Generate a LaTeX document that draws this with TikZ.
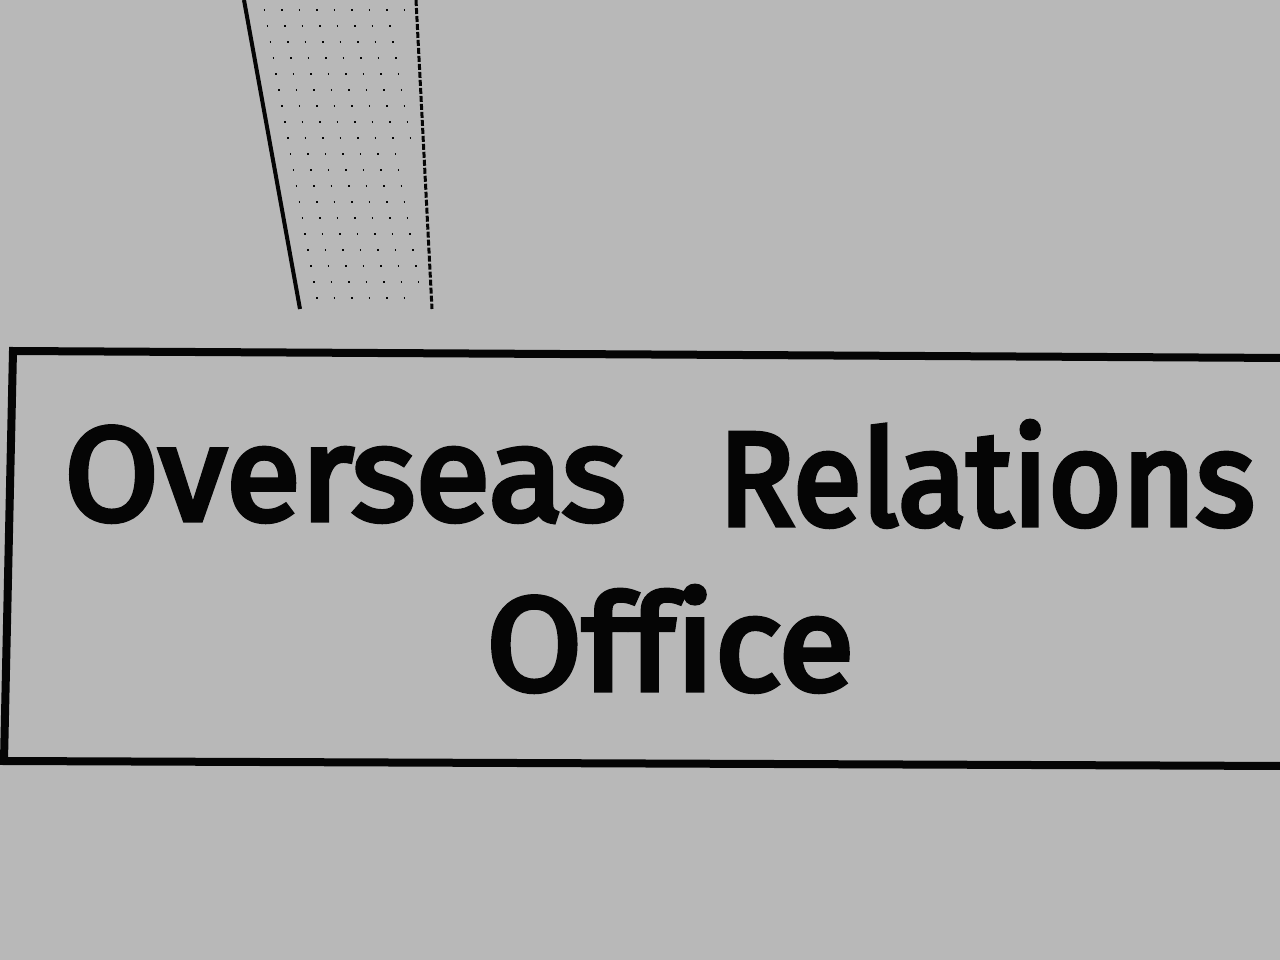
\documentclass[tikz,border=0pt]{standalone}
\usepackage{fontspec}
\newfontfamily\signfont{Fira Sans}[Ligatures=CommonOff, FakeBold=4]
\usetikzlibrary{calc}
\definecolor{paper}{HTML}{B8B8B8}
\definecolor{ink}{HTML}{050505}
\tikzset{
  signtext/.style={inner sep=0pt, text=ink, font=\signfont\fontsize{133}{133}\selectfont},
  frame/.style={draw=ink, line width=8pt, line join=miter},
}
\begin{document}
\begin{tikzpicture}[x=1pt,y=-1pt]
    \fill[paper] (0,0) rectangle (1280,960);
    \useasboundingbox (0,0) rectangle (1280,960);
    % strip at the top
    \coordinate (sl0) at (244,0);
    \coordinate (sl1) at (300,309);
    \coordinate (sr0) at (416,0);
    \coordinate (sr1) at (432,309);
    \draw[ink, line width=4pt] (sl0) -- (sl1);
    \draw[ink, line width=3pt, dash pattern=on 6pt off 2pt] (sr0) -- (sr1);
    \foreach \y in {10,26,42,58,74,90,106,122,138,154,170,186,202,218,234,250,266,282,298}
      \draw[ink, line width=1.2pt, dash pattern=on 1.5pt off 16pt]
        ($(sl0)!\y/309!(sl1)+(18,0)$) -- ($(sr0)!\y/309!(sr1)+(-12,0)$);
    % sign
    \coordinate (tl) at (13,351);
    \coordinate (tr) at (1290,358);
    \coordinate (bl) at (4,761);
    \coordinate (br) at (1290,766);
    \draw[frame] (tr) -- (tl) -- (bl) -- (br);
    \node[signtext, anchor=base west, xscale=1.03] (over) at (64,520) {Overseas};
    \node[signtext, anchor=base west, xscale=.95] (rel) at (718,525) {Relations};
    \node[signtext, anchor=base west, xscale=1.045] (off) at (486,690) {Office};
\end{tikzpicture}
\end{document}
